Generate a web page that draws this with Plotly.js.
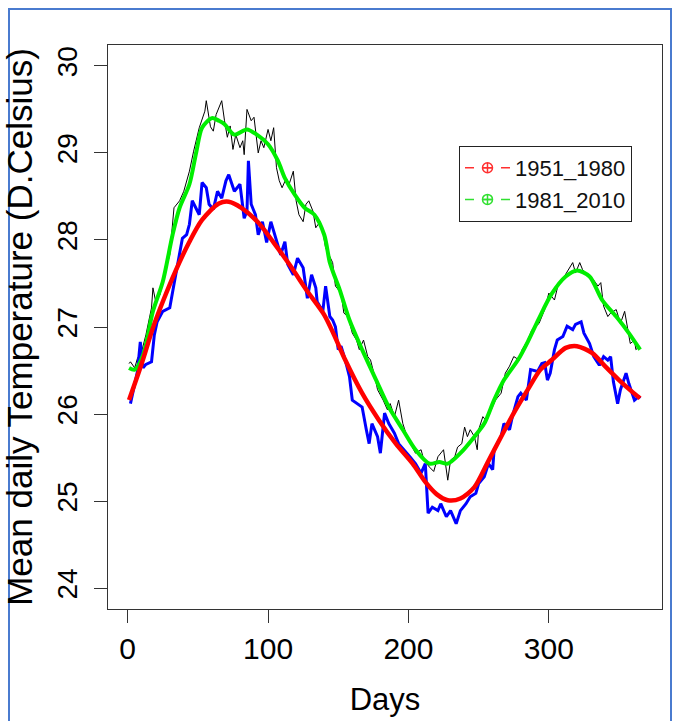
<!DOCTYPE html>
<html>
<head>
<meta charset="utf-8">
<script src="https://cdn.plot.ly/plotly-3.0.1.min.js"></script>
<style>
  html, body { margin: 0; padding: 0; background: #ffffff; }
  #chart { width: 677px; height: 721px; }
</style>
</head>
<body>
<div id="chart"></div>
<script>
// ---- Data ----
// 1981_2010 daily means (thin black line)
const daysBlack = [1,2,5,7,10,13,17,18,20,23,25,30,33,37,40,44,47,51,55,56,59,61,63,65,67,69,71,73,75,77,80,82,83,85,88,90,93,95,97,100,102,104,106,108,110,113,115,118,120,122,125,127,129,132,134,137,139,141,144,146,148,152,154,157,160,163,165,168,171,173,176,178,182,185,187,190,193,196,199,203,205,209,211,215,218,221,223,225,228,230,233,235,238,240,242,244,247,249,250,253,255,259,262,266,269,272,275,279,281,285,288,293,297,300,304,307,311,314,317,319,322,324,328,331,335,337,339,342,344,348,351,354,356,358,361,362,364,365];
const tempBlack = [26.58,26.60,26.53,26.64,26.72,26.91,27.22,27.45,27.29,27.37,27.52,27.83,28.37,28.45,28.56,28.79,29.02,29.29,29.48,29.60,29.30,29.25,29.44,29.52,29.60,29.37,29.18,29.31,29.04,29.21,29.06,29.14,28.98,29.50,29.37,29.41,29.00,29.14,29.06,29.27,29.14,29.29,28.83,28.68,28.60,28.71,28.64,28.79,28.45,28.29,28.21,28.41,28.45,28.33,28.14,28.21,28.10,27.91,27.80,27.74,27.47,27.39,27.16,27.12,26.93,26.85,26.74,26.85,26.66,26.62,26.43,26.28,26.16,26.05,26.12,25.97,26.16,25.89,25.74,25.62,25.55,25.59,25.47,25.39,25.34,25.51,25.55,25.59,25.24,25.47,25.51,25.62,25.66,25.85,25.74,25.82,25.74,25.59,25.82,25.97,25.93,26.05,26.16,26.24,26.47,26.55,26.66,26.62,26.74,26.85,26.97,27.04,27.20,27.39,27.31,27.51,27.58,27.66,27.74,27.62,27.74,27.66,27.58,27.56,27.47,27.51,27.24,27.12,27.16,27.20,27.04,27.18,27.01,26.81,26.85,26.74,26.77,26.76];

// 1951_1980 daily means (blue line)
const daysBlue = [2,7,9,11,13,17,19,21,25,30,33,37,39,42,44,46,49,51,53,56,58,61,64,67,70,72,76,80,83,85,86,88,91,93,96,99,102,106,109,112,114,118,121,125,128,131,134,135,139,141,144,146,148,150,152,155,158,160,164,167,170,172,174,178,180,183,186,190,193,197,201,205,209,212,214,217,221,223,227,230,234,237,241,244,248,250,254,257,260,261,266,268,272,274,278,280,284,287,292,295,297,299,301,304,306,310,313,317,319,323,325,329,332,336,339,342,344,346,349,351,355,357,361,364,365];
const tempBlue = [26.12,26.49,26.83,26.53,26.57,26.60,26.91,27.06,27.18,27.22,27.49,27.83,28.02,28.06,28.18,28.45,28.35,28.29,28.66,28.60,28.41,28.35,28.56,28.48,28.68,28.75,28.56,28.64,28.25,28.33,28.91,28.41,28.29,28.06,28.21,27.97,28.21,27.98,27.83,27.98,27.72,27.60,27.79,27.68,27.33,27.60,27.45,27.29,27.18,27.47,27.12,27.08,27.00,26.74,26.78,26.62,26.43,26.16,26.12,26.08,25.82,25.66,25.89,25.74,25.55,26.01,25.89,25.78,25.66,25.59,25.51,25.43,25.32,25.43,24.86,24.93,24.89,24.97,24.82,24.89,24.74,24.89,24.97,25.05,25.09,25.20,25.28,25.43,25.36,25.59,25.74,25.89,25.82,25.97,26.20,26.24,26.16,26.51,26.49,26.58,26.59,26.39,26.47,26.74,26.85,26.89,27.01,26.97,27.03,27.06,26.93,26.81,26.66,26.56,26.66,26.62,26.66,26.37,26.12,26.28,26.47,26.35,26.16,26.20,26.18];

// Smoothed 1981_2010 (green)
const daysGreen = [1,5,11,18,25,32,37,44,49,53,60,65,69,76,85,92,100,107,112,119,126,133,140,144,147,151,158,167,177,186,196,205,215,222,228,237,247,254,261,268,278,285,293,302,312,320,329,338,348,357,365];
const tempGreen = [26.53,26.51,26.68,27.18,27.52,28.06,28.37,28.64,29.02,29.29,29.40,29.37,29.33,29.21,29.27,29.21,29.10,28.91,28.71,28.52,28.37,28.29,28.06,27.74,27.60,27.43,27.08,26.74,26.39,26.08,25.82,25.59,25.43,25.45,25.43,25.55,25.74,25.89,26.16,26.39,26.62,26.83,27.10,27.38,27.58,27.65,27.58,27.31,27.12,26.93,26.74];

// Smoothed 1951_1980 (red)
const daysRed = [1,10,18,25,34,44,53,65,72,81,93,104,116,128,140,147,155,167,179,191,203,212,220,228,237,247,256,266,275,285,294,302,312,320,331,340,350,359,365];
const tempRed = [26.16,26.58,26.99,27.29,27.64,27.98,28.23,28.42,28.44,28.37,28.20,27.97,27.70,27.41,27.14,26.91,26.62,26.24,25.93,25.66,25.43,25.22,25.08,25.01,25.03,25.16,25.43,25.74,26.01,26.28,26.51,26.62,26.76,26.78,26.70,26.55,26.39,26.26,26.18];

const legendNames = ["1951_1980", "1981_2010"];
const xTicks = [0, 100, 200, 300];
const yTicks = [24, 25, 26, 27, 28, 29, 30];

// ---- Styling ----
const sans = "Liberation Sans, Arial, sans-serif";

const traces = [
  { x: daysBlack, y: tempBlack, type: "scatter", mode: "lines",
    line: { color: "#000000", width: 1 }, showlegend: false, hoverinfo: "skip" },
  { x: daysBlue, y: tempBlue, type: "scatter", mode: "lines",
    line: { color: "#0000FF", width: 3 }, showlegend: false, hoverinfo: "skip" },
  { x: daysGreen, y: tempGreen, type: "scatter", mode: "lines",
    line: { color: "#00EE00", width: 4, shape: "spline", smoothing: 0.8 }, showlegend: false, hoverinfo: "skip" },
  { x: daysRed, y: tempRed, type: "scatter", mode: "lines",
    line: { color: "#FF0000", width: 4.5, shape: "spline", smoothing: 0.8 }, showlegend: false, hoverinfo: "skip" },
  // legend entries (dashed line with circle-plus symbol, as in the R legend)
  { x: [null], y: [null], type: "scatter", mode: "lines+markers", name: legendNames[0],
    line: { color: "#FF3030", width: 1.5, dash: "dash" },
    marker: { symbol: "circle-cross-open", size: 10, color: "#FF3030", line: { width: 1.5 } } },
  { x: [null], y: [null], type: "scatter", mode: "lines+markers", name: legendNames[1],
    line: { color: "#30E030", width: 1.5, dash: "dash" },
    marker: { symbol: "circle-cross-open", size: 10, color: "#30E030", line: { width: 1.5 } } }
];

const L = 108, R = 662, T = 45, B = 609, W = 677, H = 721;
const px = v => (v - L) / (R - L);
const py = v => (B - v) / (B - T);

const layout = {
  width: W, height: H,
  margin: { l: L, r: W - R, t: T, b: H - B, pad: 0 },
  paper_bgcolor: "#ffffff",
  plot_bgcolor: "#ffffff",
  showlegend: true,
  legend: {
    x: px(459), y: py(146), xanchor: "left", yanchor: "top",
    bgcolor: "#ffffff", bordercolor: "#222222", borderwidth: 1,
    font: { family: sans, size: 22, color: "#111111" },
    itemwidth: 45, tracegroupgap: 0
  },
  xaxis: {
    range: [-14, 380.6], tickmode: "array", tickvals: xTicks,
    ticks: "outside", ticklen: 13, tickwidth: 1, tickcolor: "#333333",
    showline: true, mirror: true, linecolor: "#333333", linewidth: 1,
    showgrid: false, zeroline: false,
    tickfont: { family: sans, size: 30, color: "#000000" },
    ticklabelstandoff: 0,
    title: { text: "Days", font: { family: sans, size: 31, color: "#000000" }, standoff: 24 }
  },
  yaxis: {
    range: [23.76, 30.24], tickmode: "array", tickvals: yTicks,
    ticks: "outside", ticklen: 13, tickwidth: 1, tickcolor: "#333333",
    showline: true, mirror: true, linecolor: "#333333", linewidth: 1,
    showgrid: false, zeroline: false, tickangle: -90,
    tickfont: { family: sans, size: 28, color: "#000000" },
    ticklabelstandoff: 6,
    title: { text: "Mean daily Temperature (D.Celsius)", font: { family: sans, size: 35, color: "#000000" }, standoff: 9 }
  },
  shapes: [
    { type: "rect", xref: "paper", yref: "paper",
      x0: px(9), x1: px(671), y0: py(740), y1: py(9),
      line: { color: "#4a7bcf", width: 2 }, fillcolor: "rgba(0,0,0,0)", layer: "above" }
  ]
};

Plotly.newPlot("chart", traces, layout, { staticPlot: true, displayModeBar: false });
</script>
</body>
</html>
